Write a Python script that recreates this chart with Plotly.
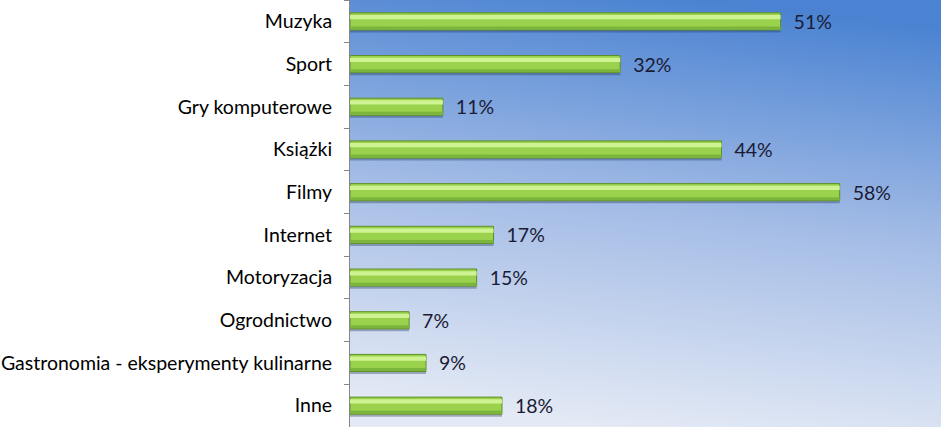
import base64
import plotly.graph_objects as go

# Data
categories = ["Muzyka", "Sport", "Gry komputerowe", "Książki", "Filmy", "Internet",
              "Motoryzacja", "Ogrodnictwo", "Gastronomia - eksperymenty kulinarne", "Inne"]
values = [51, 32, 11, 44, 58, 17, 15, 7, 9, 18]
labels = ["\u00a0\u00a0" + str(v) + "%" for v in values]

# gradient background for the plot area (svg data uri)
svg = """<svg xmlns='http://www.w3.org/2000/svg' width='600' height='430' preserveAspectRatio='none'>
<defs><linearGradient id='g' x1='0.58' y1='0' x2='0.42' y2='1'>
<stop offset='0' stop-color='#4b83d2'/>
<stop offset='0.5' stop-color='#a5bde6'/>
<stop offset='1' stop-color='#e4eaf5'/>
</linearGradient></defs>
<rect width='600' height='430' fill='url(#g)'/></svg>"""
bg = "data:image/svg+xml;base64," + base64.b64encode(svg.encode()).decode()

fig = go.Figure()

# shadow
fig.add_trace(go.Bar(
    x=values, y=categories, orientation='h',
    width=0.4, offset=-0.14,
    marker=dict(color='rgba(30,50,80,0.35)', line_width=0),
    hoverinfo='skip', showlegend=False
))
# main bar
fig.add_trace(go.Bar(
    x=values, y=categories, orientation='h',
    width=0.4, offset=-0.2,
    marker=dict(color='#9ad24e', line=dict(color='#5f8f28', width=1)),
    text=labels, textposition='outside', cliponaxis=False, constraintext='none',
    textfont=dict(family='Lato, sans-serif', size=19.5, color='#1b1b35'),
    hovertemplate='%{y}: %{x}%<extra></extra>', showlegend=False
))
# top highlight
fig.add_trace(go.Bar(
    x=values, y=categories, orientation='h',
    width=0.1, offset=-0.15,
    marker=dict(color='#cff392', line_width=0),
    hoverinfo='skip', showlegend=False
))
# darker bottom edge
fig.add_trace(go.Bar(
    x=values, y=categories, orientation='h',
    width=0.07, offset=0.12,
    marker=dict(color='#7bb53b', line_width=0),
    hoverinfo='skip', showlegend=False
))

fig.update_layout(
    width=941, height=427,
    margin=dict(l=350, r=0, t=0, b=0),
    barmode='overlay',
    paper_bgcolor='white',
    plot_bgcolor='rgba(0,0,0,0)',
    font=dict(family='Lato, sans-serif', size=19.5, color='black'),
    images=[dict(source=bg, xref='paper', yref='paper', x=0, y=1,
                 sizex=1, sizey=1, sizing='stretch', layer='below')]
)

fig.update_xaxes(range=[0, 70], visible=False, showgrid=False)
fig.update_yaxes(
    categoryorder='array', categoryarray=categories, autorange='reversed',
    showline=True, linecolor='#868686', linewidth=1,
    ticks='outside', tickson='boundaries', ticklen=5, tickcolor='#868686',
    ticklabelstandoff=13, showgrid=False
)

fig.write_html("out.html", config={'displayModeBar': False},
               post_script="document.body.style.margin='0';")
